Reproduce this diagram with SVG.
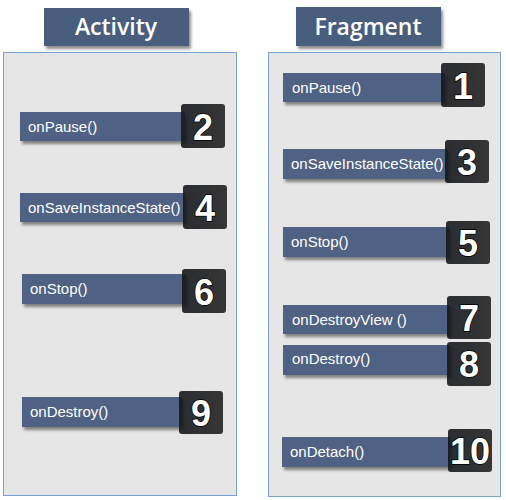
<svg xmlns="http://www.w3.org/2000/svg" width="506" height="500" viewBox="0 0 506 500">
<defs>
<filter id="sh" x="-10%" y="-20%" width="130%" height="160%">
<feGaussianBlur in="SourceAlpha" stdDeviation="1.5"/>
<feOffset dx="2" dy="3" result="b"/>
<feComponentTransfer><feFuncA type="linear" slope="0.45"/></feComponentTransfer>
<feMerge><feMergeNode/><feMergeNode in="SourceGraphic"/></feMerge>
</filter>
<linearGradient id="nb" x1="0" y1="0" x2="1" y2="0">
<stop offset="0" stop-color="#121418" stop-opacity="0.88"/>
<stop offset="1" stop-color="#363636"/>
</linearGradient>
</defs>
<style>
.title{fill:#4a5d7d;filter:url(#sh)}
.tt{font-family:"Open Sans","Liberation Sans",sans-serif;font-size:23px;font-weight:600;fill:#fff;text-anchor:middle}
.panel{fill:#e6e6e6;stroke:#7aa3cf;stroke-width:1}
.bar{fill:#4f6283;filter:url(#sh)}
.bt{font-family:"Liberation Sans",Arial,sans-serif;font-size:15px;fill:#fff}
.num{fill:url(#nb)}
.nt{font-family:"Liberation Sans",Arial,sans-serif;font-weight:bold;font-size:36px;fill:#fff;stroke:#000;stroke-width:1.5;paint-order:stroke;text-anchor:middle}
</style>
<rect width="506" height="500" fill="#fff"/>
<g id="activity">
<rect class="title" x="44" y="8" width="145" height="38"/>
<text class="tt" x="116" y="35">Activity</text>
<rect class="panel" x="3.5" y="52.5" width="233" height="443"/>
</g>
<g id="fragment">
<rect class="title" x="296" y="7" width="145" height="39"/>
<text class="tt" x="368" y="35">Fragment</text>
<rect class="panel" x="268.5" y="52.5" width="232" height="444"/>
</g>
<g id="a-onPause">
<rect class="bar" x="20" y="112" width="165" height="29"/>
<text class="bt" x="28" y="132">onPause()</text>
<rect class="num" x="181" y="104" width="44" height="44" rx="3"/>
<text class="nt" x="203" y="140">2</text>
</g>
<g id="a-onSave">
<rect class="bar" x="20" y="193" width="165" height="29"/>
<text class="bt" x="28" y="213">onSaveInstanceState()</text>
<rect class="num" x="183" y="185" width="44" height="44" rx="3"/>
<text class="nt" x="205" y="221">4</text>
</g>
<g id="a-onStop">
<rect class="bar" x="22" y="274" width="164" height="30"/>
<text class="bt" x="30" y="294">onStop()</text>
<rect class="num" x="182" y="269" width="44" height="44" rx="3"/>
<text class="nt" x="204" y="305">6</text>
</g>
<g id="a-onDestroy">
<rect class="bar" x="22" y="397" width="160" height="30"/>
<text class="bt" x="30" y="417">onDestroy()</text>
<rect class="num" x="179" y="391" width="44" height="43" rx="3"/>
<text class="nt" x="201" y="426">9</text>
</g>
<g id="f-onPause">
<rect class="bar" x="283" y="73" width="162" height="29"/>
<text class="bt" x="292" y="93">onPause()</text>
<rect class="num" x="441" y="63" width="44" height="44" rx="3"/>
<text class="nt" x="463" y="99">1</text>
</g>
<g id="f-onSave">
<rect class="bar" x="283" y="149" width="165" height="30"/>
<text class="bt" x="291" y="169">onSaveInstanceState()</text>
<rect class="num" x="445" y="140" width="44" height="43" rx="3"/>
<text class="nt" x="467" y="175">3</text>
</g>
<g id="f-onStop">
<rect class="bar" x="283" y="227" width="166" height="30"/>
<text class="bt" x="291" y="247">onStop()</text>
<rect class="num" x="446" y="221" width="44" height="43" rx="3"/>
<text class="nt" x="468" y="256">5</text>
</g>
<g id="f-onDestroyView">
<rect class="bar" x="283" y="305" width="167" height="29"/>
<text class="bt" x="292" y="325">onDestroyView ()</text>
<rect class="num" x="447" y="296" width="44" height="43" rx="3"/>
<text class="nt" x="469" y="331">7</text>
</g>
<g id="f-onDestroy">
<rect class="bar" x="283" y="345" width="167" height="30"/>
<text class="bt" x="292" y="364">onDestroy()</text>
<rect class="num" x="447" y="342" width="44" height="44" rx="3"/>
<text class="nt" x="469" y="377">8</text>
</g>
<g id="f-onDetach">
<rect class="bar" x="282" y="437" width="168" height="30"/>
<text class="bt" x="290" y="457">onDetach()</text>
<rect class="num" x="448" y="429" width="44" height="43" rx="3"/>
<text class="nt" x="470" y="464">10</text>
</g>
<g id="connectors"/>
</svg>
